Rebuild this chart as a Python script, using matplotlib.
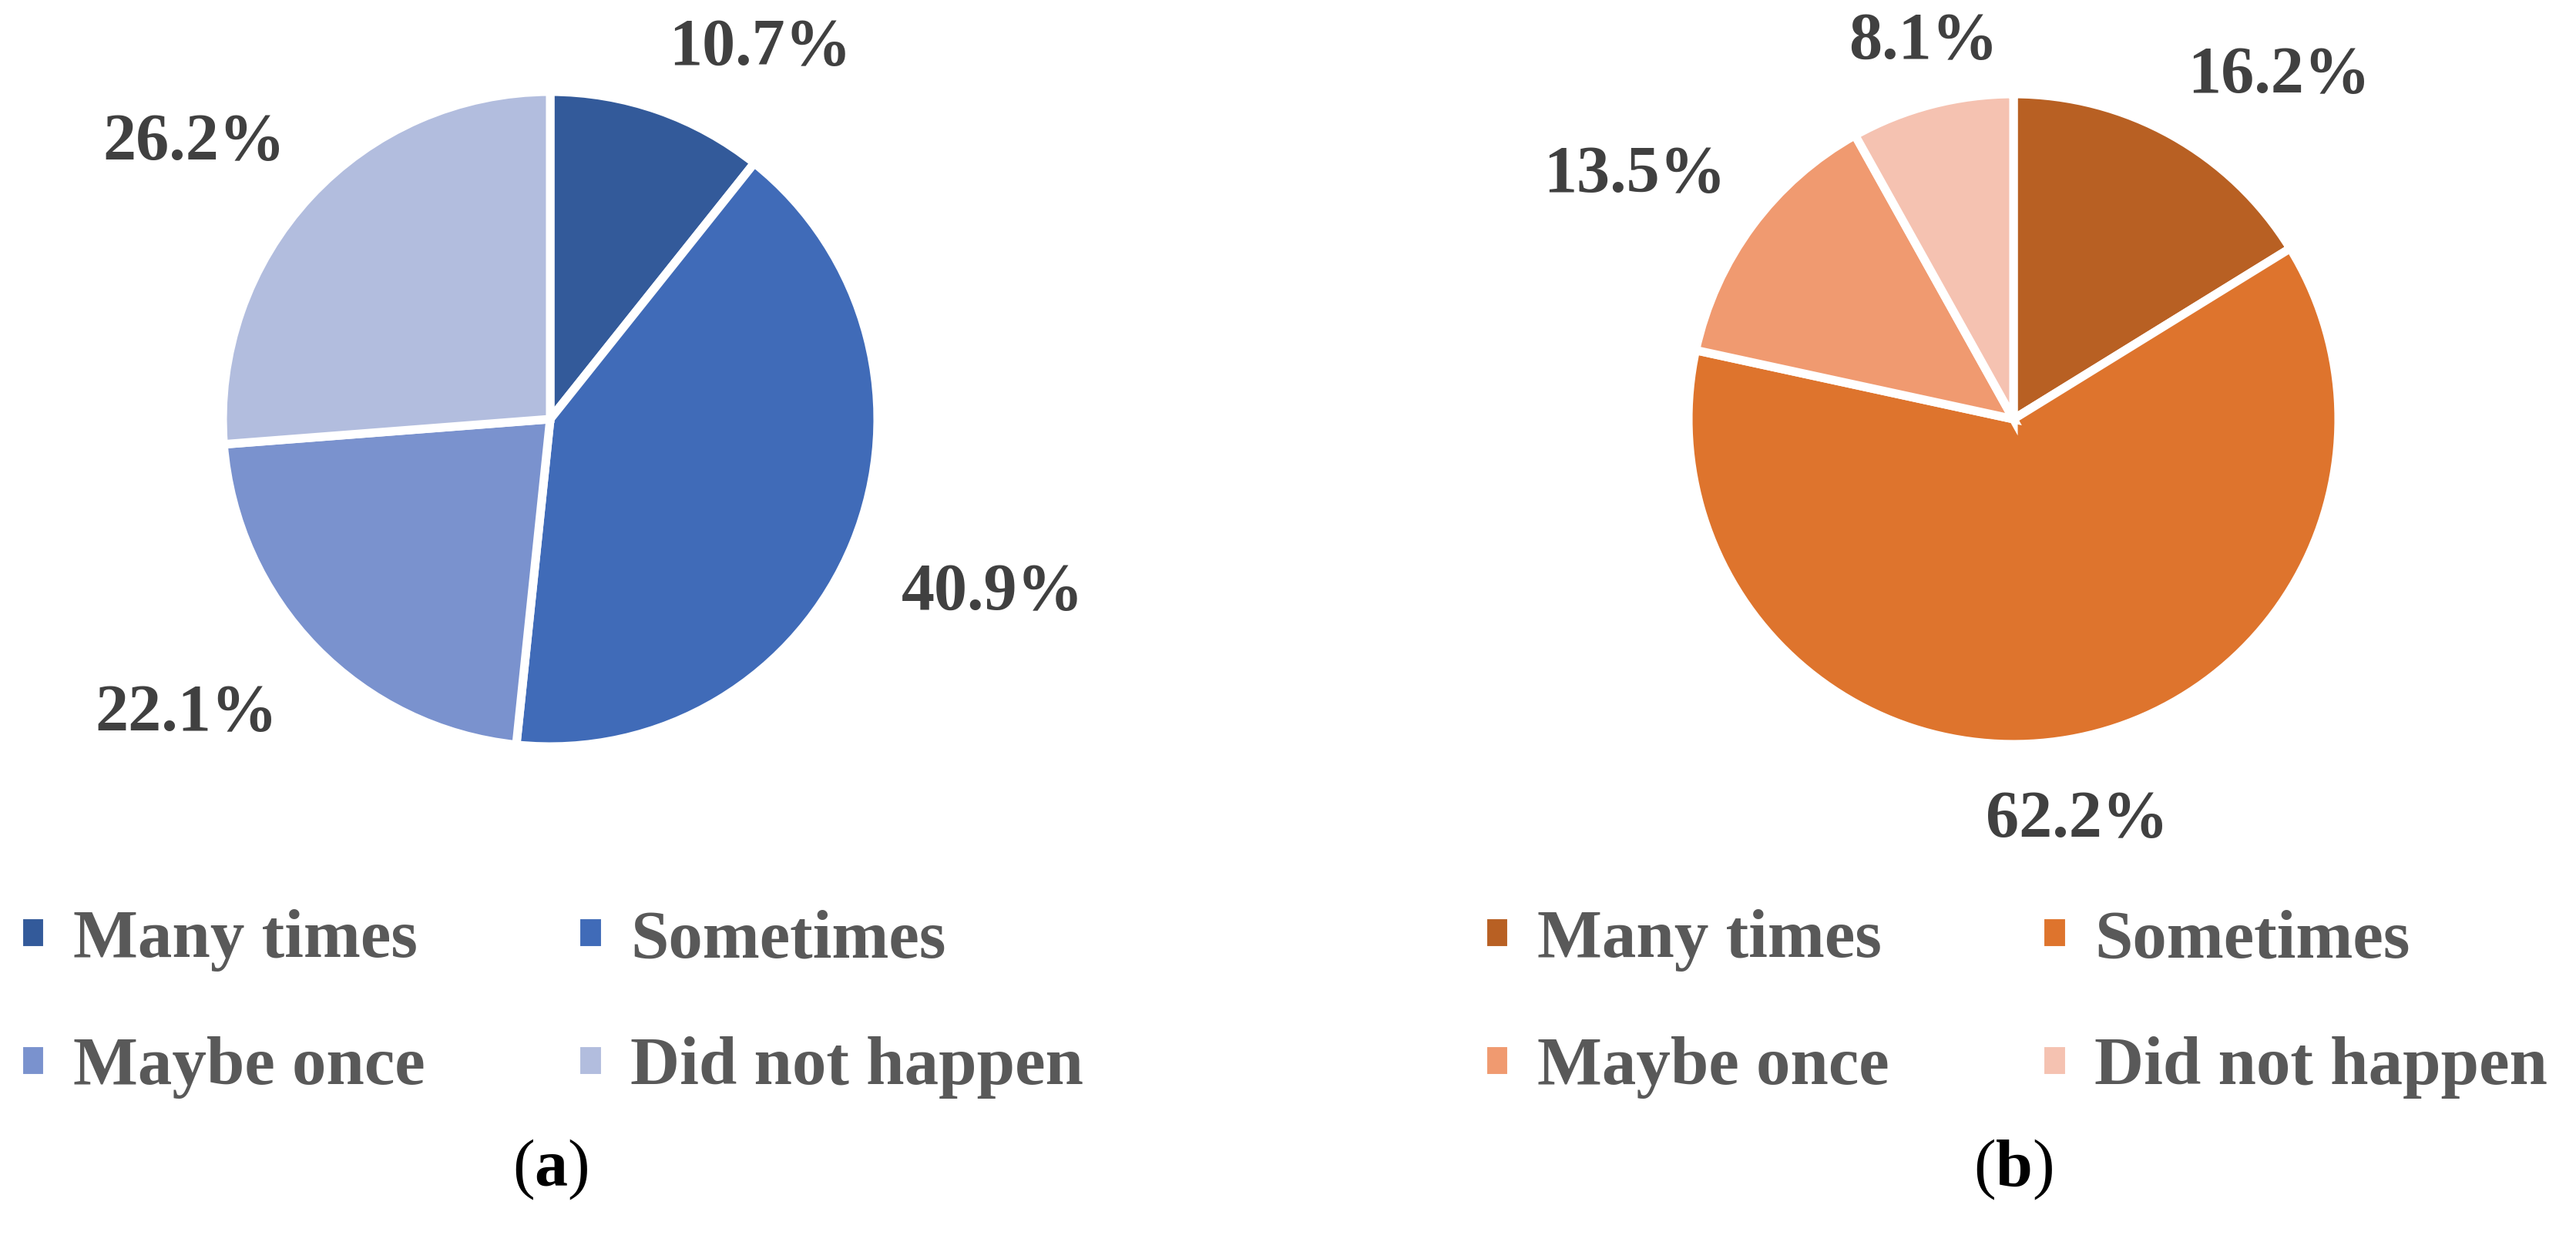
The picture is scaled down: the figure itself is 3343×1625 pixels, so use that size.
"""Two pie charts: how often it happened, groups (a) and (b)."""

import numpy as np
import matplotlib.pyplot as plt

plt.rcParams["font.family"] = ["Liberation Serif", "DejaVu Serif"]
plt.rcParams["mathtext.fontset"] = "custom"
plt.rcParams["mathtext.rm"] = "Liberation Serif"
plt.rcParams["mathtext.bf"] = "Liberation Serif:bold"

categories = ["Many times", "Sometimes", "Maybe once", "Did not happen"]
values_a = [10.7, 40.9, 22.1, 26.2]
values_b = [16.2, 62.2, 13.5, 8.1]
colors_a = ["#335A9A", "#406BB8", "#7A92CE", "#B2BDDE"]
colors_b = ["#B86023", "#DE742D", "#F09A70", "#F5C2B1"]
panel_labels = ["a", "b"]

W, H = 3343, 1625
DPI = 200
fig = plt.figure(figsize=(W / DPI, H / DPI), dpi=DPI)

LABEL_SIZE = 31
LEGEND_SIZE = 32


def px_axes(cx, cy, r):
    """Square axes centred on pixel (cx, cy) with pixel radius r."""
    return fig.add_axes([(cx - r) / W, 1 - (cy + r) / H, 2 * r / W, 2 * r / H])


def draw_panel(cx, cy, r, values, colors, legend_x, tag):
    ax = px_axes(cx, cy, r)
    wedges, _ = ax.pie(
        values,
        colors=colors,
        startangle=90,
        counterclock=False,
        wedgeprops=dict(edgecolor="white", linewidth=4),
    )
    ax.set_xlim(-1, 1)
    ax.set_ylim(-1, 1)
    ax.set_aspect("equal")
    ax.axis("off")

    # outside-end labels, aligned away from the pie
    for w, v in zip(wedges, values):
        theta = np.deg2rad((w.theta1 + w.theta2) / 2)
        x, y = np.cos(theta), np.sin(theta)
        ha = "left" if x > 0.3 else ("right" if x < -0.3 else "center")
        va = "bottom" if y > 0.3 else ("top" if y < -0.3 else "center")
        dist = 1.16 if va == "top" else 1.10
        ax.text(
            dist * x,
            dist * y,
            f"{v:.1f}%",
            ha=ha,
            va=va,
            fontsize=LABEL_SIZE,
            fontweight="bold",
            color="#404040",
            clip_on=False,
        )

    order = [0, 2, 1, 3]
    leg = fig.legend(
        [wedges[i] for i in order],
        [categories[i] for i in order],
        ncol=2,
        loc="upper left",
        bbox_to_anchor=(legend_x / W, 1 - 1180 / H),
        bbox_transform=fig.transFigure,
        frameon=False,
        fontsize=LEGEND_SIZE,
        handlelength=0.42,
        handleheight=0.42,
        handletextpad=0.38,
        columnspacing=2.2,
        labelspacing=0.95,
        borderpad=0,
        borderaxespad=0,
    )
    for t in leg.get_texts():
        t.set_color("#595959")
        t.set_fontweight("bold")

    fig.text(
        cx / W,
        1 - 1518 / H,
        "($\\mathbf{" + tag + "}$)",
        ha="center",
        va="center",
        fontsize=LABEL_SIZE,
        color="black",
    )


draw_panel(714, 544, 425, values_a, colors_a, 24, panel_labels[0])
draw_panel(2613, 544, 422, values_b, colors_b, 1924, panel_labels[1])

fig.savefig("out.png", dpi=DPI)
